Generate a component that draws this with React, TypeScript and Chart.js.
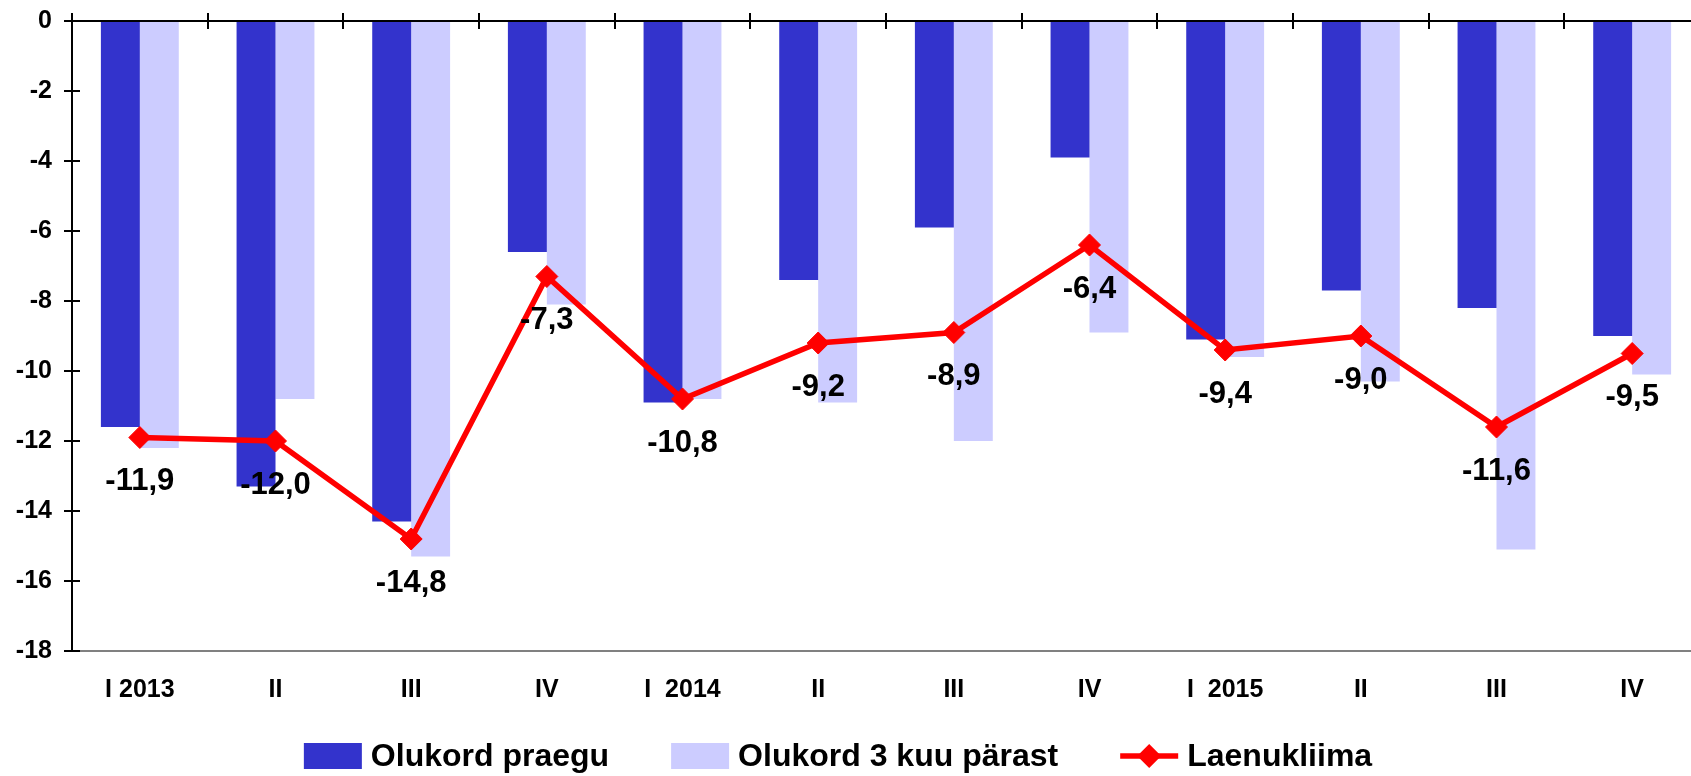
import React, { useEffect, useRef } from 'react';
import { Chart, registerables } from 'chart.js';

Chart.register(...registerables);

const categories = ['I 2013', 'II', 'III', 'IV', 'I  2014', 'II', 'III', 'IV', 'I  2015', 'II', 'III', 'IV'];
const olukordPraegu = [-11.6, -13.3, -14.3, -6.6, -10.9, -7.4, -5.9, -3.9, -9.1, -7.7, -8.2, -9.0];
const olukord3Kuu = [-12.2, -10.8, -15.3, -8.1, -10.8, -10.9, -12.0, -8.9, -9.6, -10.3, -15.1, -10.1];
const laenukliima = [-11.9, -12.0, -14.8, -7.3, -10.8, -9.2, -8.9, -6.4, -9.4, -9.0, -11.6, -9.5];
const seriesNames = ['Olukord praegu', 'Olukord 3 kuu pärast', 'Laenukliima'];
const yMin = -18;
const yMax = 0;
const yStep = 2;

const FONT = '"Liberation Sans", Arial, sans-serif';
const DARK = '#3333CC';
const LIGHT = '#CCCCFF';
const RED = '#FF0000';

const fmt = (v: number) => v.toFixed(1).replace('.', ',');

const axisPlugin = {
  id: 'axisExtras',
  afterDatasetsDraw(chart: any) {
    const ctx = chart.ctx;
    const x = chart.scales.x;
    const y = chart.scales.y;
    const area = chart.chartArea;
    ctx.save();
    const y0 = y.getPixelForValue(0);
    ctx.strokeStyle = '#000';
    ctx.lineWidth = 2;
    ctx.beginPath();
    ctx.moveTo(area.left, y0);
    ctx.lineTo(area.right, y0);
    ctx.stroke();
    for (let i = 0; i <= categories.length; i++) {
      const px = Math.round(x.getPixelForValue(i - 0.5));
      ctx.beginPath();
      ctx.moveTo(px, y0 - 8);
      ctx.lineTo(px, y0 + 8);
      ctx.stroke();
    }
    y.ticks.forEach((t: any) => {
      const py = y.getPixelForValue(t.value);
      ctx.beginPath();
      ctx.moveTo(area.left, py);
      ctx.lineTo(area.left + 8, py);
      ctx.stroke();
    });
    const meta = chart.getDatasetMeta(2);
    ctx.fillStyle = '#000';
    ctx.font = `bold 31px ${FONT}`;
    ctx.textAlign = 'center';
    ctx.textBaseline = 'middle';
    meta.data.forEach((pt: any, i: number) => {
      ctx.fillText(fmt(laenukliima[i]), pt.x, pt.y + 44);
    });
    ctx.restore();
  },
};

const legendPlugin = {
  id: 'customLegend',
  afterDraw(chart: any) {
    const ctx = chart.ctx;
    ctx.save();
    ctx.font = `bold 32px ${FONT}`;
    ctx.textBaseline = 'middle';
    ctx.textAlign = 'left';
    const sw = 58;
    const gapText = 9;
    const gapItem = 62;
    const datasets = chart.data.datasets;
    const widths = datasets.map((ds: any) => ctx.measureText(ds.label).width);
    const total = widths.reduce((a: number, w: number) => a + sw + gapText + w, 0) + gapItem * (datasets.length - 1);
    const cx = 838;
    const cy = 756;
    let xx = cx - total / 2;
    datasets.forEach((ds: any, i: number) => {
      if (ds.type === 'line') {
        ctx.strokeStyle = ds.borderColor;
        ctx.lineWidth = 5.5;
        ctx.beginPath();
        ctx.moveTo(xx, cy);
        ctx.lineTo(xx + sw, cy);
        ctx.stroke();
        ctx.fillStyle = ds.borderColor;
        const r = 12;
        ctx.beginPath();
        ctx.moveTo(xx + sw / 2, cy - r);
        ctx.lineTo(xx + sw / 2 + r, cy);
        ctx.lineTo(xx + sw / 2, cy + r);
        ctx.lineTo(xx + sw / 2 - r, cy);
        ctx.closePath();
        ctx.fill();
      } else {
        ctx.fillStyle = ds.backgroundColor;
        ctx.fillRect(xx, cy - 13, sw, 26);
      }
      ctx.fillStyle = '#000';
      ctx.fillText(ds.label, xx + sw + gapText, cy + 1);
      xx += sw + gapText + widths[i] + gapItem;
    });
    ctx.restore();
  },
};

export default function App() {
  const ref = useRef<HTMLCanvasElement | null>(null);
  useEffect(() => {
    if (!ref.current) return;
    const chart = new Chart(ref.current, {
      type: 'bar',
      data: {
        labels: categories,
        datasets: [
          {
            type: 'bar',
            label: seriesNames[0],
            data: olukordPraegu,
            backgroundColor: DARK,
            borderWidth: 0,
            categoryPercentage: 0.574,
            barPercentage: 1,
            order: 1,
          } as any,
          {
            type: 'bar',
            label: seriesNames[1],
            data: olukord3Kuu,
            backgroundColor: LIGHT,
            borderWidth: 0,
            categoryPercentage: 0.574,
            barPercentage: 1,
            order: 2,
          } as any,
          {
            type: 'line',
            label: seriesNames[2],
            data: laenukliima,
            borderColor: RED,
            backgroundColor: RED,
            borderWidth: 5.5,
            tension: 0,
            pointStyle: 'rectRot',
            pointRadius: 11,
            pointBorderWidth: 1,
            pointBackgroundColor: RED,
            pointBorderColor: RED,
            order: 0,
          } as any,
        ],
      },
      options: {
        responsive: false,
        animation: false,
        devicePixelRatio: 1,
        layout: { padding: { top: 21, right: 8, left: 0, bottom: 0 } },
        plugins: {
          legend: { display: false },
          tooltip: { enabled: false },
        },
        scales: {
          x: {
            offset: true,
            grid: { display: false, drawTicks: false },
            border: { display: true, color: '#808080', width: 2 },
            ticks: {
              color: '#000',
              font: { family: FONT, size: 25, weight: 'bold' },
              padding: 24,
              maxRotation: 0,
              autoSkip: false,
            },
            afterFit: (s: any) => { s.height = 125; s.paddingLeft = 0; s.paddingRight = 0; },
          },
          y: {
            min: yMin,
            max: yMax,
            ticks: {
              stepSize: yStep,
              color: '#000',
              font: { family: FONT, size: 25, weight: 'bold' },
              padding: 12,
              callback: (v: any) => String(v),
            },
            grid: { drawOnChartArea: false, drawTicks: true, tickLength: 8, color: '#000', lineWidth: 2 },
            border: { display: true, color: '#000', width: 2 },
            afterFit: (s: any) => { s.width = 72; s.paddingTop = 0; s.paddingBottom = 0; },
          },
        },
      },
      plugins: [axisPlugin, legendPlugin],
    } as any);
    return () => chart.destroy();
  }, []);
  return (
    <div style={{ position: 'fixed', left: 0, top: 0, width: 1691, height: 776, overflow: 'hidden', background: '#fff' }}>
      <canvas ref={ref} width={1712} height={776} style={{ display: 'block', width: 1712, height: 776 }} />
    </div>
  );
}
